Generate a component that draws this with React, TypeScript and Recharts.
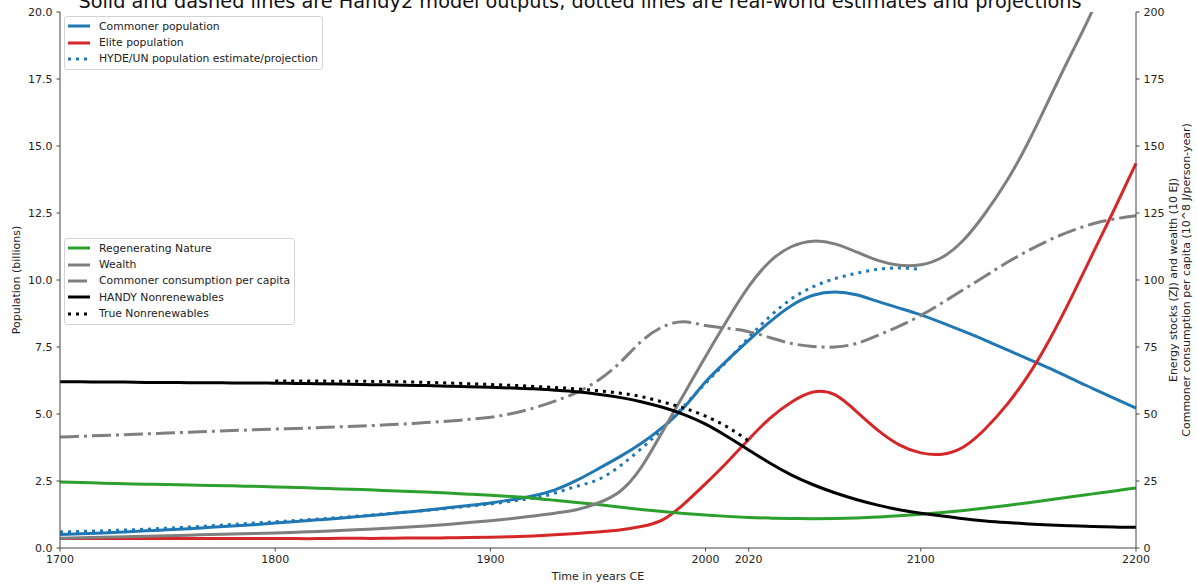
import React from "react";
import { LineChart, Line, XAxis, YAxis } from "recharts";

// Decadal samples, 1700-2200
const years = [
  1700, 1710, 1720, 1730, 1740, 1750, 1760, 1770, 1780, 1790,
  1800, 1810, 1820, 1830, 1840, 1850, 1860, 1870, 1880, 1890,
  1900, 1910, 1920, 1930, 1940, 1950, 1960, 1970, 1980, 1990,
  2000, 2010, 2020, 2030, 2040, 2050, 2060, 2070, 2080, 2090,
  2100, 2110, 2120, 2130, 2140, 2150, 2160, 2170, 2180, 2190, 2200,
];

// Population, billions (left axis)
const commonerPop = [
  0.5, 0.53, 0.56, 0.6, 0.64, 0.68, 0.72, 0.77, 0.82, 0.87,
  0.93, 0.99, 1.05, 1.11, 1.18, 1.25, 1.33, 1.41, 1.5, 1.59,
  1.68, 1.8, 1.95, 2.17, 2.52, 2.95, 3.4, 3.9, 4.5, 5.25,
  6.2, 7.0, 7.75, 8.45, 9.05, 9.43, 9.55, 9.45, 9.2, 8.95,
  8.7, 8.4, 8.08, 7.75, 7.4, 7.05, 6.7, 6.32, 5.95, 5.58, 5.22,
];
const elitePop = [
  0.35, 0.35, 0.35, 0.35, 0.35, 0.35, 0.35, 0.35, 0.35, 0.35,
  0.35, 0.35, 0.35, 0.36, 0.36, 0.36, 0.37, 0.37, 0.38, 0.39,
  0.4, 0.42, 0.45, 0.49, 0.54, 0.6, 0.67, 0.8, 1.05, 1.65,
  2.4, 3.2, 4.05, 4.85, 5.45, 5.82, 5.72, 5.1, 4.4, 3.85,
  3.55, 3.5, 3.78, 4.45, 5.35, 6.45, 7.8, 9.35, 11.0, 12.65, 14.35,
];
const hydePop = [
  0.6, 0.62, 0.64, 0.67, 0.7, 0.74, 0.78, 0.83, 0.88, 0.93,
  0.98, 1.03, 1.08, 1.14, 1.2, 1.27, 1.33, 1.4, 1.48, 1.56,
  1.64, 1.75, 1.86, 2.05, 2.3, 2.55, 3.05, 3.7, 4.45, 5.3,
  6.15, 6.98, 7.85, 8.65, 9.3, 9.75, 10.05, 10.25, 10.4, 10.45,
  10.4, null, null, null, null, null, null, null, null, null, null,
];

// Energy stocks / wealth / consumption (right axis)
const nature = [
  24.6, 24.4, 24.2, 24.0, 23.8, 23.65, 23.5, 23.35, 23.2, 23.0,
  22.8, 22.55, 22.3, 22.05, 21.8, 21.5, 21.2, 20.85, 20.5, 20.1,
  19.7, 19.2, 18.6, 17.8, 17.0, 16.2, 15.3, 14.4, 13.6, 12.9,
  12.3, 11.8, 11.4, 11.15, 11.0, 10.95, 11.0, 11.2, 11.55, 12.0,
  12.6, 13.25, 14.0, 14.9, 15.9, 16.9, 18.0, 19.1, 20.2, 21.3, 22.4,
];
const wealth = [
  3.6, 3.8, 4.0, 4.2, 4.4, 4.6, 4.8, 5.0, 5.2, 5.4,
  5.6, 5.9, 6.2, 6.5, 6.9, 7.3, 7.7, 8.2, 8.8, 9.5,
  10.2, 11.0, 11.9, 13.0, 14.3, 16.8, 21.0, 30.0, 43.5, 57.5,
  71.5, 85.0, 97.5, 107.0, 112.5, 114.5, 113.5, 110.5, 107.3, 105.5,
  105.7, 108.5, 115.0, 125.0, 137.0, 151.5, 168.0, 184.5, 201.0, 221.0, 242.0,
];
const consumption = [
  41.4, 41.7, 42.0, 42.3, 42.6, 42.9, 43.2, 43.5, 43.8, 44.1,
  44.4, 44.6, 44.9, 45.2, 45.5, 45.9, 46.3, 46.8, 47.3, 48.0,
  48.8, 50.2, 52.2, 54.8, 58.0, 62.5, 69.0, 77.0, 82.5, 84.4,
  83.0, 82.0, 80.7, 78.5, 76.3, 75.2, 75.0, 76.3, 79.3, 82.8,
  86.8, 91.5, 96.5, 101.5, 106.5, 111.0, 115.0, 118.3, 121.0, 122.8, 124.0,
];
const handyNonrenew = [
  62.0, 62.0, 61.9, 61.9, 61.8, 61.8, 61.7, 61.7, 61.6, 61.6,
  61.5, 61.4, 61.3, 61.2, 61.0, 60.9, 60.7, 60.6, 60.4, 60.2,
  60.0, 59.7, 59.4, 58.9, 58.3, 57.4, 56.2, 54.6, 52.5, 49.8,
  46.2, 41.6, 36.6, 31.6, 27.2, 23.6, 20.6, 18.1, 16.0, 14.3,
  13.0, 11.9, 10.9, 10.1, 9.5, 9.0, 8.6, 8.3, 8.0, 7.8, 7.7,
];
const trueNonrenew = [
  null, null, null, null, null, null, null, null, null, null,
  62.3, 62.3, 62.3, 62.2, 62.2, 62.1, 62.0, 61.8, 61.6, 61.3,
  61.0, 60.7, 60.3, 59.9, 59.4, 58.7, 57.8, 56.5, 54.5, 52.2,
  49.2, 45.2, 40.0, null, null, null, null, null, null, null,
  null, null, null, null, null, null, null, null, null, null, null,
];

const xTicks = [1700, 1800, 1900, 2000, 2020, 2100, 2200];
const leftTicks = [0, 2.5, 5, 7.5, 10, 12.5, 15, 17.5, 20];
const rightTicks = [0, 25, 50, 75, 100, 125, 150, 175, 200];

const data = years.map((year, i) => ({
  year,
  commoner: commonerPop[i],
  elite: elitePop[i],
  hyde: hydePop[i],
  nature: nature[i],
  wealth: wealth[i],
  consumption: consumption[i],
  handyNonrenew: handyNonrenew[i],
  trueNonrenew: trueNonrenew[i],
}));

const FONT = "DejaVu Sans";
const BLUE = "#1f77b4";
const RED = "#d62728";
const GREEN = "#2ca02c";
const GREY = "#7f7f7f";
const BLACK = "#000000";
const DOTTED = "3 5";
const DASHDOT = "19 5 3 5";

type Series = {
  key: string;
  label: string;
  color: string;
  dash?: string;
  axis: "left" | "right";
};

const populationSeries: Series[] = [
  { key: "commoner", label: "Commoner population", color: BLUE, axis: "left" },
  { key: "elite", label: "Elite population", color: RED, axis: "left" },
  { key: "hyde", label: "HYDE/UN population estimate/projection", color: BLUE, dash: DOTTED, axis: "left" },
];

const stockSeries: Series[] = [
  { key: "nature", label: "Regenerating Nature", color: GREEN, axis: "right" },
  { key: "wealth", label: "Wealth", color: GREY, axis: "right" },
  { key: "consumption", label: "Commoner consumption per capita", color: GREY, dash: DASHDOT, axis: "right" },
  { key: "handyNonrenew", label: "HANDY Nonrenewables", color: BLACK, axis: "right" },
  { key: "trueNonrenew", label: "True Nonrenewables", color: BLACK, dash: DOTTED, axis: "right" },
];

const tickStyle = { fill: "#222", fontSize: 11, fontFamily: FONT };
const axisStroke = "#444";

function LegendBox({ items, left, top }: { items: Series[]; left: number; top: number }) {
  return (
    <div
      style={{
        position: "absolute",
        left,
        top,
        padding: "1px 4px 2px 3px",
        border: "1px solid #d4d4d4",
        borderRadius: 3,
        background: "rgba(255,255,255,0.8)",
        fontFamily: FONT,
        fontSize: 10.8,
        color: "#222",
      }}
    >
      {items.map((s) => (
        <div key={s.key} style={{ display: "flex", alignItems: "center", height: 16.4 }}>
          <svg width={22} height={8} style={{ marginRight: 9 }}>
            <line x1={0} y1={4} x2={22} y2={4} stroke={s.color} strokeWidth={3} strokeDasharray={s.dash} />
          </svg>
          <span style={{ whiteSpace: "nowrap" }}>{s.label}</span>
        </div>
      ))}
    </div>
  );
}

export default function App() {
  const allSeries = [...populationSeries, ...stockSeries];
  return (
    <div style={{ position: "absolute", left: 0, top: 0, width: 1197, height: 584, background: "#fff" }}>
      <LineChart width={1197} height={584} data={data} margin={{ top: 12, right: 0, bottom: 0, left: 0 }}>
        <XAxis
          dataKey="year"
          type="number"
          domain={[1700, 2200]}
          ticks={xTicks}
          height={36}
          tick={tickStyle}
          tickSize={3.5}
          tickMargin={3.5}
          axisLine={{ stroke: axisStroke }}
          tickLine={{ stroke: axisStroke }}
        />
        <XAxis
          xAxisId="top"
          orientation="top"
          dataKey="year"
          type="number"
          domain={[1700, 2200]}
          height={0}
          tick={false}
          tickLine={false}
          axisLine={{ stroke: axisStroke }}
        />
        <YAxis
          yAxisId="left"
          domain={[0, 20]}
          ticks={leftTicks}
          width={60}
          tick={tickStyle}
          tickSize={3.5}
          tickMargin={4}
          tickFormatter={(v: number) => v.toFixed(1)}
          axisLine={{ stroke: axisStroke }}
          tickLine={{ stroke: axisStroke }}
        />
        <YAxis
          yAxisId="right"
          orientation="right"
          domain={[0, 200]}
          allowDataOverflow
          ticks={rightTicks}
          width={61}
          tick={tickStyle}
          tickSize={3.5}
          tickMargin={4}
          axisLine={{ stroke: axisStroke }}
          tickLine={{ stroke: axisStroke }}
        />
        {allSeries.map((s) => (
          <Line
            key={s.key}
            yAxisId={s.axis}
            dataKey={s.key}
            type="natural"
            stroke={s.color}
            strokeWidth={3}
            strokeDasharray={s.dash}
            dot={false}
            activeDot={false}
            isAnimationActive={false}
          />
        ))}
        <text x={580} y={8} textAnchor="middle" fontFamily={FONT} fontSize={19.3} fill="#111">
          Solid and dashed lines are Handy2 model outputs, dotted lines are real-world estimates and projections
        </text>
        <text x={598} y={580} textAnchor="middle" fontFamily={FONT} fontSize={11} fill="#222">
          Time in years CE
        </text>
        <text
          transform="translate(20,280) rotate(-90)"
          textAnchor="middle"
          fontFamily={FONT}
          fontSize={11}
          fill="#222"
        >
          Population (billions)
        </text>
        <text
          transform="translate(1177,280) rotate(-90)"
          textAnchor="middle"
          fontFamily={FONT}
          fontSize={11}
          fill="#222"
        >
          Energy stocks (ZJ) and wealth (10 EJ)
        </text>
        <text
          transform="translate(1190,280) rotate(-90)"
          textAnchor="middle"
          fontFamily={FONT}
          fontSize={11}
          fill="#222"
        >
          Commoner consumption per capita (10^8 J/person-year)
        </text>
      </LineChart>
      <LegendBox items={populationSeries} left={64} top={16} />
      <LegendBox items={stockSeries} left={64} top={238} />
    </div>
  );
}
